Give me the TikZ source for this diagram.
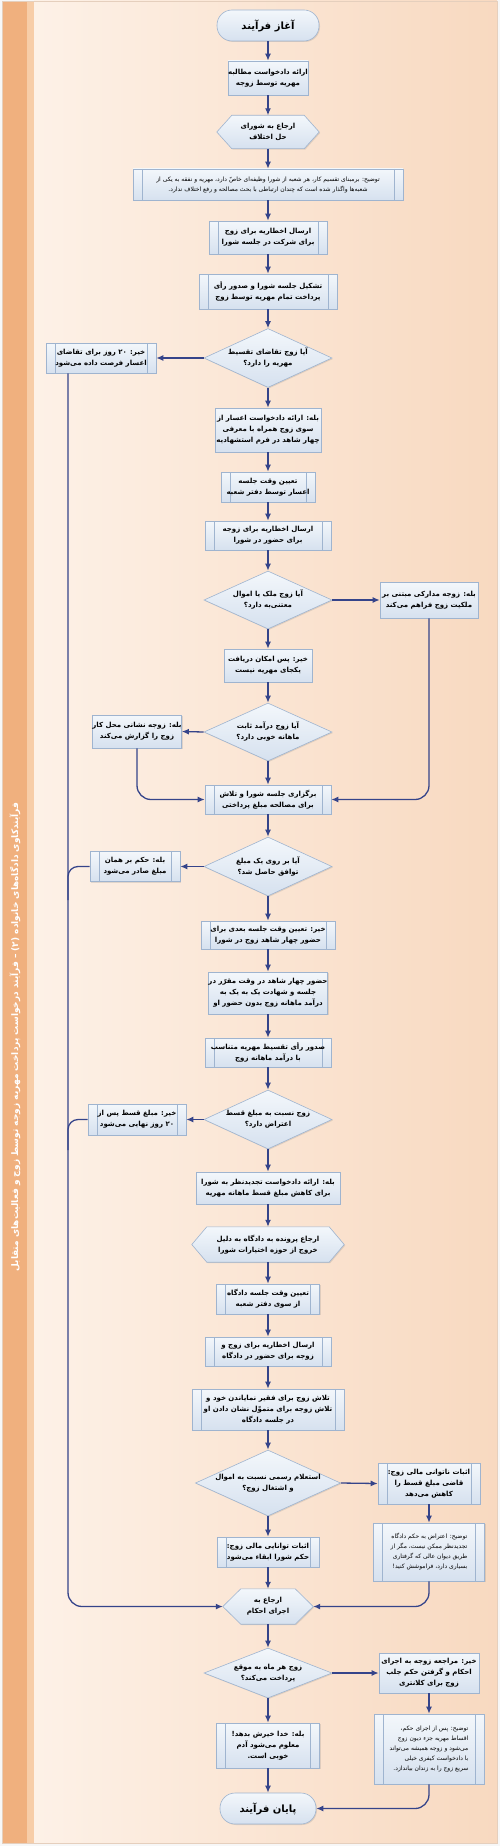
\documentclass[tikz,border=0pt]{standalone}
\usepackage{fontspec}
\usetikzlibrary{shapes.geometric,arrows.meta,shadows,calc}
\newfontfamily\fa[Script=Arabic]{DejaVu Sans}
\TeXXeTstate=1
\newcommand{\myR}[1]{\beginR #1\endR}
\definecolor{stripc}{RGB}{240,176,126}
\definecolor{stripb}{RGB}{247,205,168}
\definecolor{panL}{RGB}{253,241,231}
\definecolor{panR}{RGB}{248,217,192}
\definecolor{panB}{RGB}{229,207,189}
\definecolor{bord}{RGB}{159,180,207}
\definecolor{boxtop}{RGB}{243,247,251}
\definecolor{boxbot}{RGB}{214,225,239}
\definecolor{arrc}{RGB}{53,68,138}
\pgfdeclarelayer{panel}
\pgfdeclarelayer{hexl}
\pgfsetlayers{panel,hexl,main}
\tikzset{
  base/.style={font=\fa\bfseries\fontsize{7}{11}\selectfont, align=center, inner sep=0pt, text=black},
  sz/.style 2 args={minimum width=#1pt, minimum height=#2pt},
  shd/.style={drop shadow={shadow xshift=1pt, shadow yshift=-1pt, opacity=0.22}},
  box/.style={base, rectangle, draw=bord, line width=0.6pt, top color=boxtop, bottom color=boxbot, shd},
  sub/.style={box, path picture={\draw[draw=bord, line width=0.6pt]
      ([xshift=9pt]path picture bounding box.north west) -- ([xshift=9pt]path picture bounding box.south west)
      ([xshift=-9pt]path picture bounding box.north east) -- ([xshift=-9pt]path picture bounding box.south east);}},
  note/.style={sub, font=\fa\fontsize{6}{10}\selectfont},
  dia/.style={base, diamond, aspect=2.2, draw=bord, line width=0.6pt, top color=boxtop, bottom color=boxbot, shd},
  term/.style={box, rounded corners=15pt, font=\fa\bfseries\fontsize{10}{12}\selectfont},
  hexn/.style={base},
  hexfill/.style={draw=bord, line width=0.6pt, top color=boxtop, bottom color=boxbot, shd},
  arr/.style={draw=arrc, line width=1.3pt, -{Latex[length=7pt,width=6pt]}},
  ln/.style={draw=arrc, line width=1.3pt},
}
\newcommand{\hexa}[2]{\begin{pgfonlayer}{hexl}
  \path[hexfill] (#1.west) -- ([xshift=#2]#1.north west) -- ([xshift=-#2]#1.north east) -- (#1.east)
     -- ([xshift=-#2]#1.south east) -- ([xshift=#2]#1.south west) -- cycle;
  \end{pgfonlayer}}
\begin{document}
\begin{tikzpicture}[x=1pt,y=-1pt]
\useasboundingbox (0,0) rectangle (500,1846);
\begin{pgfonlayer}{panel}
\fill[white!94!gray] (0,0) rectangle (500,1846);
\fill[stripc] (2,1) rectangle (27,1843);
\fill[stripb] (27,1) rectangle (34,1843);
\shade[left color=panL, right color=panR] (34,1) rectangle (497,1843);
\draw[panB, line width=0.5pt] (2,1) rectangle (497,1843);
\end{pgfonlayer}

\node[base, rotate=90, text=white, font=\fa\bfseries\fontsize{9}{10}\selectfont] (title) at (15,1037)
  {\myR{فرآیندکاوی دادگاه‌های خانواده (۲) – فرآیند درخواست پرداخت مهریه زوجه توسط زوج و فعالیت‌های متقابل}};

\node[term, sz={102}{31}] (start) at (268,25.5) {\myR{آغاز فرآیند}};
\node[box, sz={80}{34}] (b1) at (268,78) {\myR{ارائه دادخواست مطالبه}\\\myR{مهریه توسط زوجه}};
\node[hexn, sz={102}{33}] (h1) at (268,132) {\myR{ارجاع به شورای}\\\myR{حل اختلاف}};
\hexa{h1}{15pt}
\node[note, sz={270}{31}] (n1) at (268,184.5) {\myR{توضیح: برمبنای تقسیم کار، هر شعبه از شورا وظیفه‌ای خاصّ دارد، مهریه و نفقه به یکی از}\\\myR{شعبه‌ها واگذار شده است که چندان ارتباطی با بحث مصالحه و رفع اختلاف ندارد.}};
\node[sub, sz={118}{33}] (b2) at (268,237.5) {\myR{ارسال اخطاریه برای زوج}\\\myR{برای شرکت در جلسه شورا}};
\node[sub, sz={138}{35}] (b3) at (268,291.5) {\myR{تشکیل جلسه شورا و صدور رأی}\\\myR{پرداخت تمام مهریه توسط زوج}};
\node[dia, sz={128}{59}] (d1) at (268,358) {\myR{آیا زوج تقاضای تقسیط}\\\myR{مهریه را دارد؟}};
\node[sub, sz={110}{30}] (l1) at (101,358) {\myR{خیر: ۲۰ روز برای تقاضای}\\\myR{اعسار فرصت داده می‌شود}};
\node[box, sz={106}{44}] (b4) at (268,430) {\myR{بله: ارائه دادخواست اعسار از}\\\myR{سوی زوج همراه با معرفی}\\\myR{چهار شاهد در فرم استشهادیه}};
\node[sub, sz={94}{30}] (b5) at (268,487) {\myR{تعیین وقت جلسه}\\\myR{اعسار توسط دفتر شعبه}};
\node[sub, sz={126}{29}] (b6) at (268,535.5) {\myR{ارسال اخطاریه برای زوجه}\\\myR{برای حضور در شورا}};
\node[dia, sz={128}{58}] (d2) at (268,600) {\myR{آیا زوج ملک یا اموال}\\\myR{معتنی‌به دارد؟}};
\node[box, sz={98}{36}] (r1) at (429,600) {\myR{بله: زوجه مدارکی مبتنی بر}\\\myR{ملکیت زوج فراهم می‌کند}};
\node[box, sz={88}{33}] (b7) at (268,665.5) {\myR{خیر: پس امکان دریافت}\\\myR{یکجای مهریه نیست}};
\node[dia, sz={128}{58}] (d3) at (268,732) {\myR{آیا زوج درآمد ثابت}\\\myR{ماهانه خوبی دارد؟}};
\node[box, sz={88}{33}] (l2) at (137,731.5) {\myR{بله: زوجه نشانی محل کار}\\\myR{زوج را گزارش می‌کند}};
\node[sub, sz={126}{29}] (b8) at (268,799.5) {\myR{برگزاری جلسه شورا و تلاش}\\\myR{برای مصالحه مبلغ پرداختی}};
\node[dia, sz={128}{59}] (d4) at (268,866.5) {\myR{آیا بر روی یک مبلغ}\\\myR{توافق حاصل شد؟}};
\node[sub, sz={90}{30}] (l3) at (135,866.5) {\myR{بله: حکم بر همان}\\\myR{مبلغ صادر می‌شود}};
\node[sub, sz={134}{28}] (b9) at (268,935) {\myR{خیر: تعیین وقت جلسه بعدی برای}\\\myR{حضور چهار شاهد زوج در شورا}};
\node[box, sz={118}{42}] (b10) at (268,993) {\myR{حضور چهار شاهد در وقت مقرّر در}\\\myR{جلسه و شهادت یک به یک به}\\\myR{درآمد ماهانه زوج بدون حضور او}};
\node[sub, sz={126}{29}] (b11) at (268,1052.5) {\myR{صدور رأی تقسیط مهریه متناسب}\\\myR{با درآمد ماهانه زوج}};
\node[dia, sz={128}{59}] (d5) at (268,1119.5) {\myR{زوج نسبت به مبلغ قسط}\\\myR{اعتراض دارد؟}};
\node[sub, sz={98}{31}] (l4) at (137,1119.5) {\myR{خیر: مبلغ قسط پس از}\\\myR{۲۰ روز نهایی می‌شود}};
\node[box, sz={144}{32}] (b12) at (268,1188) {\myR{بله: ارائه دادخواست تجدیدنظر به شورا}\\\myR{برای کاهش مبلغ قسط ماهانه مهریه}};
\node[hexn, sz={152}{35}] (h2) at (268,1244.5) {\myR{ارجاع پرونده به دادگاه به دلیل}\\\myR{خروج از حوزه اختیارات شورا}};
\hexa{h2}{15pt}
\node[sub, sz={103}{30}] (b13) at (268,1299) {\myR{تعیین وقت جلسه دادگاه}\\\myR{از سوی دفتر شعبه}};
\node[sub, sz={126}{29}] (b14) at (268,1351.5) {\myR{ارسال اخطاریه برای زوج و}\\\myR{زوجه برای حضور در دادگاه}};
\node[sub, sz={152}{41}] (b15) at (268,1409.5) {\myR{تلاش زوج برای فقیر نمایاندن خود و}\\\myR{تلاش زوجه برای متموّل نشان دادن او}\\\myR{در جلسه دادگاه}};
\node[dia, sz={128}{60}] (d6) at (268,1483) {\myR{استعلام رسمی نسبت به اموال}\\\myR{و اشتغال زوج؟}};
\node[sub, sz={102}{41}] (r2) at (429,1483.5) {\myR{اثبات ناتوانی مالی زوج:}\\\myR{قاضی مبلغ قسط را}\\\myR{کاهش می‌دهد}};
\node[note, sz={111}{58}, align=right] (r3) at (429,1552) {\myR{توضیح: اعتراض به حکم دادگاه}\\\myR{تجدیدنظر ممکن نیست، مگر از}\\\myR{طریق دیوان عالی که گرفتاری}\\\myR{بسیاری دارد، فراموشش کنید!}};
\node[sub, sz={102}{30}] (b16) at (268,1552) {\myR{اثبات توانایی مالی زوج:}\\\myR{حکم شورا ابقاء می‌شود}};
\node[hexn, sz={90}{35}] (h3) at (268,1606.5) {\myR{ارجاع به}\\\myR{اجرای احکام}};
\hexa{h3}{18pt}
\node[dia, sz={128}{50}] (d7) at (268,1673) {\myR{زوج هر ماه به موقع}\\\myR{پرداخت می‌کند؟}};
\node[box, sz={100}{40}] (r4) at (429,1673) {\myR{خیر: مراجعه زوجه به اجرای}\\\myR{احکام و گرفتن حکم جلب}\\\myR{زوج برای کلانتری}};
\node[note, sz={110}{70}, align=right] (r5) at (429,1749) {\myR{توضیح: پس از اجرای حکم،}\\\myR{اقساط مهریه جزء دیون زوج}\\\myR{می‌شود و زوجه همیشه می‌تواند}\\\myR{با دادخواست کیفری خیلی}\\\myR{سریع زوج را به زندان بیاندازد.}};
\node[sub, sz={103}{45}] (b17) at (268,1745.5) {\myR{بله: خدا خیرش بدهد!}\\\myR{معلوم می‌شود آدم}\\\myR{خوبی است.}};
\node[term, sz={96}{31}] (end) at (268,1808.5) {\myR{پایان فرآیند}};

\foreach \a/\b in {start/b1,b1/h1,h1/n1,n1/b2,b2/b3,b3/d1,d1/b4,b4/b5,b5/b6,b6/d2,d2/b7,b7/d3,d3/b8,b8/d4,d4/b9,b9/b10,b10/b11,b11/d5,d5/b12,b12/h2,h2/b13,b13/b14,b14/b15,b15/d6,d6/b16,b16/h3,h3/d7,d7/b17,b17/end}
  \draw[arr] (\a.south) -- (\b.north);

\draw[arr] (d1.west) -- (l1.east);
\draw[arr] (d2.east) -- (r1.west);
\draw[arr] (d3.west) -- (l2.east);
\draw[arr] (d4.west) -- (l3.east);
\draw[arr] (d5.west) -- (l4.east);
\draw[arr] (d6.east) -- (r2.west);
\draw[arr] (d7.east) -- (r4.west);
\draw[arr, rounded corners=14pt] (r1.south) |- (b8.east);
\draw[arr, rounded corners=14pt] (l2.south) |- (b8.west);
\draw[arr] (r2.south) -- (r3.north);
\draw[arr, rounded corners=14pt] (r3.south) |- (h3.east);
\draw[arr] (r4.south) -- (r5.north);
\draw[arr, rounded corners=14pt] (r5.south) |- (end.east);
\coordinate (tb) at (68,0);
\coordinate (tj1) at (68,900);
\coordinate (tj2) at (68,1150);
\draw[arr, rounded corners=14pt] (l1.south -| tb) |- (h3.west);
\draw[ln, rounded corners=10pt] (l3.west) -| (tj1);
\draw[ln, rounded corners=10pt] (l4.west) -| (tj2);
\end{tikzpicture}
\end{document}
